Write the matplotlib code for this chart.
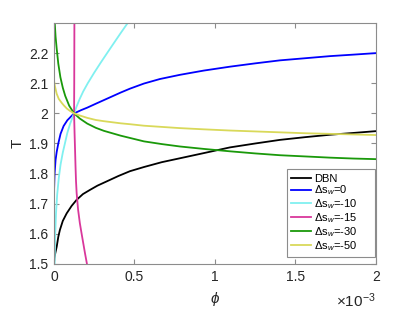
import numpy as np
import matplotlib
matplotlib.use("Agg")
import matplotlib.pyplot as plt

plt.rcParams['font.family'] = ['Liberation Sans', 'DejaVu Sans']
plt.rcParams['mathtext.fontset'] = 'custom'
plt.rcParams['mathtext.rm'] = 'Liberation Sans'
plt.rcParams['mathtext.it'] = 'Liberation Sans:italic'

# phi in units of 1e-3, T
phi_dbn = [0.0, 0.003, 0.008, 0.017, 0.027, 0.037, 0.055, 0.079, 0.11, 0.141,
           0.18, 0.224, 0.27, 0.327, 0.4, 0.472, 0.56, 0.67, 0.783, 0.93,
           1.093, 1.25, 1.404, 1.56, 1.714, 1.86, 2.0]
T_dbn = [1.5, 1.52, 1.535, 1.557, 1.59, 1.613, 1.643, 1.668, 1.693, 1.713,
         1.732, 1.746, 1.76, 1.774, 1.792, 1.808, 1.822, 1.838, 1.851, 1.868,
         1.887, 1.9, 1.912, 1.921, 1.929, 1.935, 1.941]

phi_s0 = [0.0, 0.001, 0.004, 0.01, 0.017, 0.027, 0.041, 0.06, 0.083, 0.125,
          0.17, 0.207, 0.26, 0.31, 0.36, 0.414, 0.472, 0.559, 0.658, 0.783,
          0.93, 1.093, 1.25, 1.404, 1.56, 1.714, 1.86, 2.0]
T_s0 = [1.5, 1.75, 1.80, 1.845, 1.872, 1.9, 1.932, 1.958, 1.977, 2.0,
        2.011, 2.019, 2.032, 2.044, 2.056, 2.069, 2.082, 2.099, 2.114, 2.128,
        2.142, 2.155, 2.166, 2.176, 2.183, 2.19, 2.195, 2.2]

phi_s10 = [0.004, 0.008, 0.013, 0.02, 0.03, 0.041, 0.055, 0.068, 0.083, 0.1,
           0.125, 0.14, 0.16, 0.182, 0.21, 0.25, 0.29, 0.33, 0.373, 0.415,
           0.458]
T_s10 = [1.5, 1.6, 1.67, 1.73, 1.785, 1.83, 1.87, 1.9, 1.935, 1.965,
         2.0, 2.022, 2.048, 2.073, 2.1, 2.135, 2.168, 2.2, 2.234, 2.267,
         2.3]

phi_s15 = [0.127, 0.126, 0.125, 0.128, 0.131, 0.134, 0.137, 0.141, 0.15,
           0.161, 0.172, 0.182, 0.193, 0.205]
T_s15 = [2.3, 2.1, 2.0, 1.935, 1.88, 1.823, 1.775, 1.735, 1.68,
         1.635, 1.6, 1.569, 1.535, 1.5]

phi_s30 = [0.005, 0.01, 0.017, 0.027, 0.04, 0.055, 0.07, 0.095, 0.125, 0.16,
           0.207, 0.26, 0.31, 0.414, 0.559, 0.67, 0.783, 0.93, 1.093, 1.25,
           1.404, 1.56, 1.714, 1.86, 2.0]
T_s30 = [2.3, 2.255, 2.215, 2.165, 2.12, 2.085, 2.058, 2.025, 2.0, 1.983,
         1.966, 1.952, 1.942, 1.926, 1.907, 1.898, 1.89, 1.882, 1.874, 1.867,
         1.861, 1.857, 1.853, 1.85, 1.848]

phi_s50 = [0.0, 0.006, 0.017, 0.03, 0.048, 0.062, 0.08, 0.1, 0.125, 0.16,
           0.207, 0.26, 0.31, 0.414, 0.472, 0.559, 0.67, 0.783, 0.93, 1.093,
           1.25, 1.404, 1.56, 1.714, 1.86, 2.0]
T_s50 = [2.11, 2.09, 2.065, 2.048, 2.035, 2.026, 2.016, 2.008, 2.0, 1.993,
         1.985, 1.978, 1.974, 1.967, 1.964, 1.959, 1.955, 1.951, 1.947, 1.943,
         1.94, 1.937, 1.934, 1.932, 1.93, 1.928]

labels = ['DBN', r'$\Delta$s$_w$=0', r'$\Delta$s$_w$=-10', r'$\Delta$s$_w$=-15',
          r'$\Delta$s$_w$=-30', r'$\Delta$s$_w$=-50']
colors = ['black', '#0000ff', '#80f0f0', '#d9379b', '#1a990a', '#d9d95a']

fig = plt.figure(figsize=(4.15, 3.15), dpi=100)
ax = fig.add_axes([0.130, 0.162, 0.776, 0.765])

series = [(phi_dbn, T_dbn), (phi_s0, T_s0), (phi_s10, T_s10),
          (phi_s15, T_s15), (phi_s30, T_s30), (phi_s50, T_s50)]
for (x, y), c, lab in zip(series, colors, labels):
    ax.plot(x, y, color=c, lw=1.3, label=lab, solid_joinstyle='round')

ax.set_xlim(0, 2)
ax.set_ylim(1.5, 2.3)
ax.set_xticks([0, 0.5, 1, 1.5, 2])
ax.set_xticklabels(['0', '0.5', '1', '1.5', '2'])
ax.set_yticks(np.arange(1.5, 2.21, 0.1))
ax.set_yticklabels(['1.5', '1.6', '1.7', '1.8', '1.9', '2', '2.1', '2.2'])

grey = '#8c8c8c'
for s in ax.spines.values():
    s.set_color(grey)
    s.set_linewidth(0.8)
ax.tick_params(direction='in', length=3.5, width=0.8, color=grey,
               labelsize=10, labelcolor='#262626', top=True, right=True, pad=4)

ax.set_xlabel(r'$\it{\phi}$', fontsize=11, color='#262626', labelpad=5)
ax.set_ylabel('T', fontsize=11, color='#262626', labelpad=3)
ax.text(1.0, -0.115, r'$\times$10$^{-3}$', transform=ax.transAxes,
        ha='right', va='top', fontsize=11, color='#262626')

leg = ax.legend(loc='lower left', bbox_to_anchor=(0.7236, 0.029, 0.273, 0.3),
                mode='expand', borderaxespad=0,
                fontsize=8, handlelength=1.8, handletextpad=0.2,
                labelspacing=0.0, borderpad=0.4, fancybox=False,
                framealpha=1, edgecolor=grey)
leg.get_frame().set_linewidth(0.8)

fig.savefig('out.png', dpi=100)
